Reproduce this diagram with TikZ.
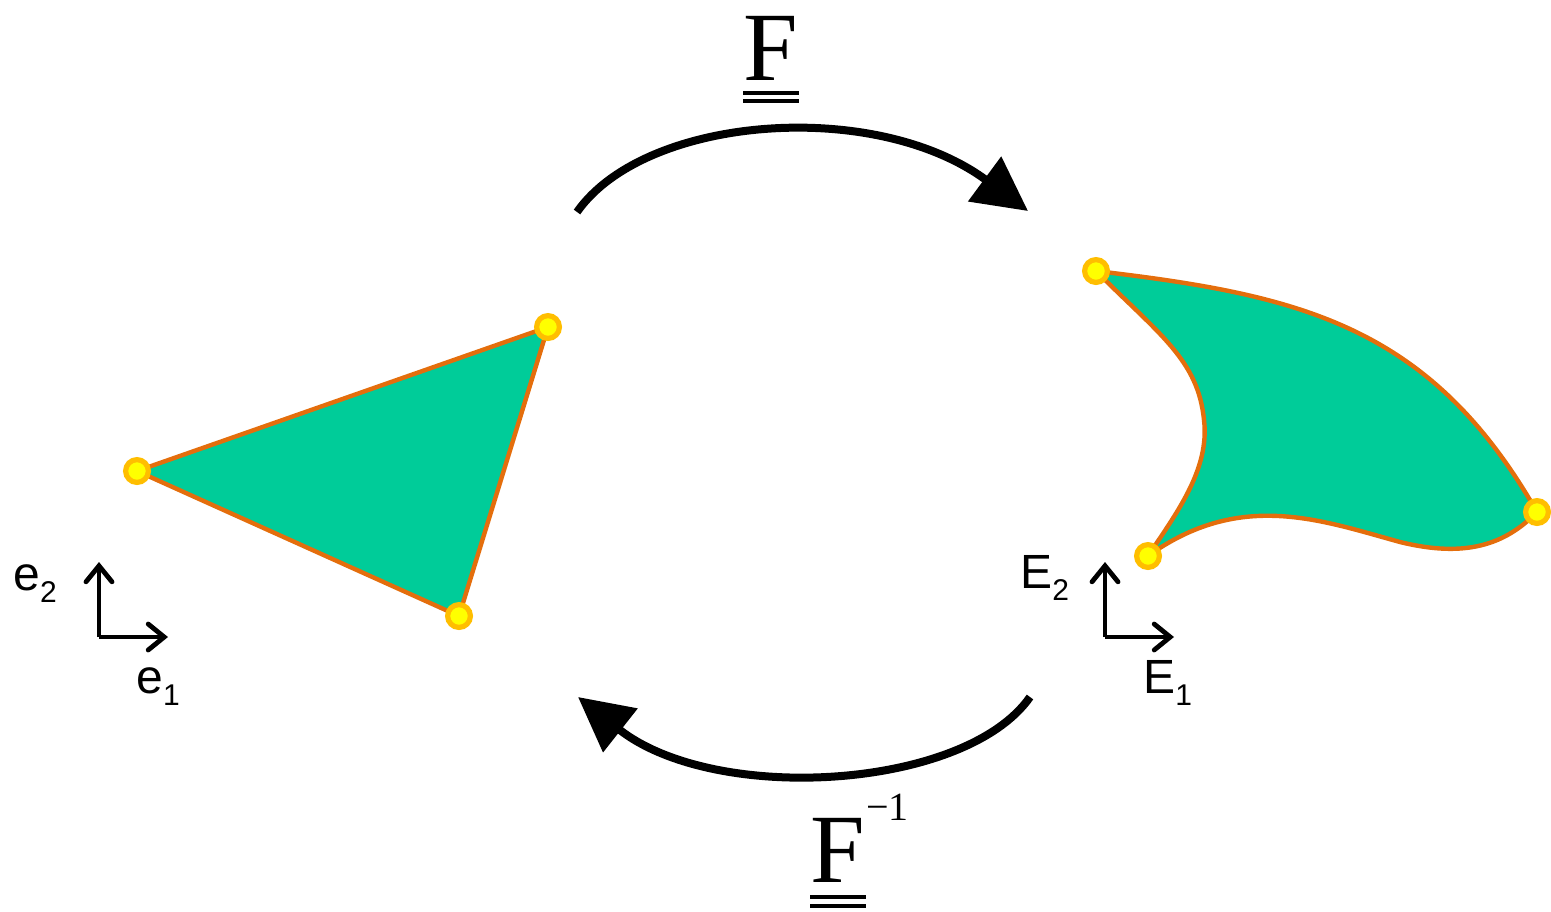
\documentclass[tikz,border=0pt]{standalone}
\usepackage{fontspec}
\setmainfont{Liberation Sans}
\newfontfamily\serifF{Liberation Serif}
\usetikzlibrary{arrows.meta}
\definecolor{fillgreen}{RGB}{0,204,153}
\definecolor{edgeorange}{RGB}{228,110,12}
\definecolor{dotring}{RGB}{255,190,0}
\definecolor{dotyellow}{RGB}{255,255,0}
\newcommand\lsub[1]{\raisebox{-6pt}{\fontsize{15}{15}\selectfont #1}}
\begin{document}
\begin{tikzpicture}[x=0.5pt,y=-0.5pt,
  region/.style={fill=fillgreen, draw=edgeorange, line width=2.2pt, line join=round},
  vertex/.style={circle, fill=dotyellow, draw=dotring, line width=2.6pt, minimum size=11.4pt, inner sep=0pt},
  maparrow/.style={line width=4pt, -{Triangle[length=27pt,width=27pt]}},
  axis/.style={line width=2.4pt, line join=round, -{Straight Barb[length=8pt,width=13pt,line cap=round]}},
  sanslabel/.style={inner sep=0pt, anchor=base west, font=\fontsize{24}{24}\selectfont},
  biglabel/.style={inner sep=0pt, anchor=base, font=\serifF\fontsize{49}{49}\selectfont},
  dblbar/.style={line width=1.6pt}
]
\useasboundingbox (0,0) rectangle (1551,911);

% left triangle
\coordinate (t1) at (137,471);
\coordinate (t2) at (548,327);
\coordinate (t3) at (459,616);
\draw[region] (t1) -- (t2) -- (t3) -- cycle;
\node[vertex] (v1) at (t1) {};
\node[vertex] (v2) at (t2) {};
\node[vertex] (v3) at (t3) {};

% right deformed region
\coordinate (A) at (1096,271);
\coordinate (B) at (1537,512);
\coordinate (C) at (1148,556);
\draw[region] (A) .. controls (1300,295) and (1430,325) .. (B)
  .. controls (1505,545) and (1465,558) .. (1400,542)
  .. controls (1320,520) and (1240,490) .. (C)
  .. controls (1175,515) and (1210,470) .. (1204,420)
  .. controls (1198,360) and (1160,335) .. (A) -- cycle;
\node[vertex] (w1) at (A) {};
\node[vertex] (w2) at (B) {};
\node[vertex] (w3) at (C) {};

% mapping arrows
\coordinate (Fs) at (577,212);
\coordinate (Fe) at (1028,211);
\draw[maparrow] (Fs) .. controls (645,115) and (875,98) .. (Fe);
\coordinate (Gs) at (1030,697);
\coordinate (Ge) at (578,697);
\draw[maparrow] (Gs) .. controls (965,790) and (715,805) .. (Ge);

% labels F and F^-1
\node[biglabel] (Flab) at (771,80) {F};
\draw[dblbar] ([yshift=-6.5pt]Flab.base west) -- ([yshift=-6.5pt]Flab.base east);
\draw[dblbar] ([yshift=-10.5pt]Flab.base west) -- ([yshift=-10.5pt]Flab.base east);
\node[biglabel] (Gilab) at (838,882) {F};
\node[inner sep=0pt, anchor=base west, font=\serifF\fontsize{20}{20}\selectfont] (Giexp) at (866,820) {−1};
\draw[dblbar] ([yshift=-7.5pt]Gilab.base west) -- ([yshift=-7.5pt]Gilab.base east);
\draw[dblbar] ([yshift=-12pt]Gilab.base west) -- ([yshift=-12pt]Gilab.base east);

% left axes
\coordinate (o1) at (99,637);
\coordinate (o1x) at (168,637);
\coordinate (o1y) at (99,562);
\draw[axis] (o1) -- (o1x);
\draw[axis] (o1) -- (o1y);
\node[sanslabel] (e2) at (13,590) {e\lsub{2}};
\node[sanslabel] (e1) at (136,693) {e\lsub{1}};

% right axes
\coordinate (o2) at (1105,637);
\coordinate (o2x) at (1174,637);
\coordinate (o2y) at (1105,562);
\draw[axis] (o2) -- (o2x);
\draw[axis] (o2) -- (o2y);
\node[sanslabel] (E2) at (1020,588) {E\lsub{2}};
\node[sanslabel] (E1) at (1143,693) {E\lsub{1}};
\end{tikzpicture}
\end{document}
